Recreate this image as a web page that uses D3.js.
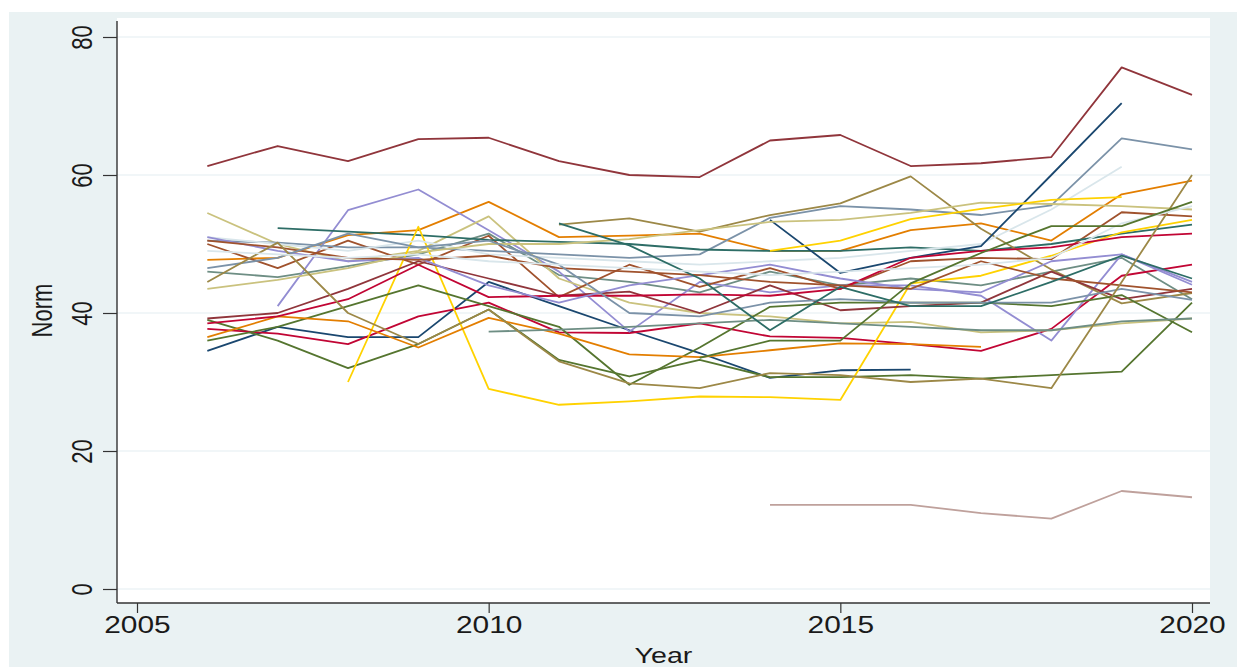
<!DOCTYPE html>
<html>
<head>
<meta charset="utf-8">
<script src="https://cdn.jsdelivr.net/npm/d3@7"></script>
<style>
  html, body { margin: 0; padding: 0; background: #ffffff; }
  svg { display: block; }
  text { font-family: "Liberation Sans", Arial, sans-serif; fill: #1a1a1a; }
</style>
</head>
<body>
<div id="chart"></div>
<script>
// Years on the x axis
const years = [2006, 2007, 2008, 2009, 2010, 2011, 2012, 2013, 2014, 2015, 2016, 2017, 2018, 2019, 2020];
const xTicks = [2005, 2010, 2015, 2020];
const yTicks = [0, 20, 40, 60, 80];

// Stata s2color line palette, cycled over the units
const palette = ["#1a476f", "#90353b", "#55752f", "#e37e00", "#6e8e84", "#c10534", "#938dd2",
                 "#cac27e", "#a0522d", "#7b92a8", "#2d6d66", "#9c8847", "#bfa19c", "#ffd200", "#d9e6eb"];

// Norm by year, one array per unit (null = no observation)
const unit01 = [34.5, 38.0, 36.5, 36.5, 44.5, 41.0, 37.5, 34.2, 30.6, 31.7, 31.8, null, null, null, null];
const unit02 = [61.3, 64.2, 62.0, 65.2, 65.4, 62.0, 60.0, 59.7, 65.0, 65.8, 61.3, 61.7, 62.6, 75.6, 71.6];
const unit03 = [39.0, 36.0, 32.0, 35.5, 40.5, 33.2, 30.8, 33.2, 30.7, 30.7, 31.0, 30.5, 31.0, 31.5, 41.5];
const unit04 = [47.7, 48.0, 51.3, 52.0, 56.1, 51.0, 51.2, 51.5, 49.0, 49.0, 52.0, 53.0, 50.5, 57.2, 59.2];
const unit05 = [46.0, 45.2, 46.8, 48.5, 51.5, 45.5, 44.5, 43.0, 46.0, 44.0, 45.0, 44.0, 46.0, 48.0, 42.0];
const unit06 = [37.7, 37.0, 35.5, 39.5, 41.5, 37.2, 37.1, 38.5, 36.6, 36.4, 35.5, 34.5, 37.7, 45.4, 47.0];
const unit07 = [null, 41.0, 54.9, 57.9, 52.0, 46.0, 37.3, 44.5, 43.0, 44.0, 44.0, 42.5, 36.0, 48.5, 44.1];
const unit08 = [54.5, 50.0, 47.5, 49.0, 54.0, 45.0, 41.5, 40.0, 39.5, 38.5, 38.7, 37.2, 37.5, 38.5, 39.2];
const unit09 = [50.0, 46.5, 50.5, 47.0, 51.2, 42.3, 47.0, 43.8, 46.5, 43.5, 47.5, 48.0, 47.8, 54.6, 54.0];
const unit10 = [50.5, 50.2, 49.5, 49.5, 49.0, 48.5, 48.0, 48.5, 53.8, 55.5, 55.0, 54.2, 55.6, 65.3, 63.7];
const unit11 = [null, 52.3, 51.8, 51.3, 50.6, 50.3, 50.0, 49.2, 49.0, 49.0, 49.5, 49.0, 50.0, 51.5, 52.8];
const unit12 = [null, null, null, null, null, 52.8, 53.7, 51.8, 54.2, 55.9, 59.8, 52.2, 46.3, 41.4, 42.9];
const unit13 = [null, null, null, null, null, null, null, null, 12.2, 12.2, 12.2, 11.0, 10.2, 14.2, 13.3];
const unit14 = [null, null, 30.0, 52.5, 29.0, 26.7, 27.2, 27.9, 27.8, 27.4, 44.3, 45.4, 48.3, 51.7, 53.5];
const unit15 = [51.0, 50.0, 49.0, 50.5, 48.5, 48.0, 47.5, 47.0, 47.5, 48.0, 49.0, 50.0, 55.0, 61.2, null];
const unit16 = [null, null, null, null, null, null, null, null, 53.5, 45.8, 48.0, 49.7, 60.0, 70.4, null];
const unit17 = [39.2, 40.0, 43.5, 47.5, 45.0, 42.5, 43.1, 40.0, 44.0, 40.4, 41.0, 41.5, 46.0, 42.0, 43.5];
const unit18 = [36.0, 38.0, 41.0, 44.0, 41.0, 38.0, 29.6, 35.0, 40.9, 41.5, 41.5, 41.5, 41.0, 42.6, 37.2];
const unit19 = [36.5, 39.5, 38.8, 35.0, 39.3, 37.0, 34.0, 33.6, 34.6, 35.6, 35.5, 35.1, null, null, null];
const unit20 = [null, null, null, null, 37.3, 37.6, 38.0, 38.5, 39.0, 38.5, 38.0, 37.5, 37.5, 38.8, 39.2];
const unit21 = [38.5, 39.5, 42.0, 47.0, 42.3, 42.5, 42.5, 42.7, 42.5, 43.5, 48.0, 49.0, 49.5, 51.0, 51.5];
const unit22 = [51.0, 49.0, 47.5, 48.0, 44.0, 41.5, 44.0, 45.5, 47.0, 45.0, 43.5, 43.0, 47.5, 48.5, 44.5];
const unit23 = [43.5, 44.8, 46.5, 48.8, 50.0, 50.0, 50.7, 52.0, 53.2, 53.5, 54.5, 56.0, 55.8, 55.5, 55.0];
const unit24 = [50.5, 49.5, 48.0, 47.7, 48.3, 46.5, 46.0, 45.5, 44.5, 44.0, 43.5, 47.5, 45.0, 44.0, 43.0];
const unit25 = [46.5, 48.0, 51.5, 49.5, 50.5, 47.0, 40.0, 39.5, 41.5, 42.0, 41.5, 41.5, 41.5, 43.5, 41.9];
const unit26 = [null, null, null, null, null, 53.0, 49.8, 45.0, 37.5, 43.8, 41.0, 41.0, 44.5, 48.3, 45.0];
const unit27 = [44.5, 50.2, 40.0, 35.5, 40.5, 33.0, 29.8, 29.1, 31.3, 31.0, 30.0, 30.5, 29.1, 44.5, 60.0];
const unit29 = [null, null, null, null, null, null, null, null, 49.0, 50.5, 53.6, 55.1, 56.4, 56.8, null];
const unit30 = [49.0, 48.5, 48.0, 48.5, 47.5, 47.0, 46.5, 46.0, 45.5, 46.0, 46.5, 47.0, 48.0, 53.0, 55.5];
const unit33 = [null, null, null, null, null, null, null, 33.5, 36.0, 36.0, 44.3, 48.7, 52.6, 52.6, 56.1];

// position in this list sets the palette colour (Stata cycles its pstyles)
const units = [unit01, unit02, unit03, unit04, unit05, unit06, unit07, unit08, unit09, unit10,
               unit11, unit12, unit13, unit14, unit15, unit16, unit17, unit18, unit19, unit20,
               unit21, unit22, unit23, unit24, unit25, unit26, unit27, null, unit29, unit30,
               null, null, unit33];

const W = 1243, H = 667;
const svg = d3.select("#chart").append("svg").attr("width", W).attr("height", H);

// graph region
svg.append("rect").attr("x", 9).attr("y", 12).attr("width", 1228).attr("height", H - 12).attr("fill", "#eaf2f3");

const plot = { left: 117, right: 1210, top: 18, bottom: 603 };
svg.append("rect").attr("x", plot.left).attr("y", plot.top)
  .attr("width", plot.right - plot.left).attr("height", plot.bottom - plot.top).attr("fill", "#ffffff");

const x = d3.scaleLinear().domain([2005, 2020]).range([137, 1192]);
const y = d3.scaleLinear().domain([0, 80]).range([589, 37]);

// horizontal grid
svg.append("g").selectAll("line").data(yTicks).join("line")
  .attr("x1", plot.left).attr("x2", plot.right)
  .attr("y1", d => y(d)).attr("y2", d => y(d))
  .attr("stroke", "#e4eef1").attr("stroke-width", 1.2);

// series
const line = d3.line().defined(d => d[1] != null).x(d => x(d[0])).y(d => y(d[1]));
const lines = svg.append("g").attr("fill", "none").attr("stroke-width", 1.8)
  .attr("stroke-linejoin", "round");
units.forEach((vals, i) => {
  if (!vals) return;
  lines.append("path")
    .attr("d", line(years.map((yr, j) => [yr, vals[j]])))
    .attr("stroke", palette[i % palette.length]);
});

const stretch = 1.3;

// y axis
const yAxis = svg.append("g").attr("transform", `translate(${plot.left},0)`)
  .call(d3.axisLeft(y).tickValues(yTicks).tickSize(14).tickPadding(8));
yAxis.select(".domain").attr("d", `M0,${plot.top + 3}V${plot.bottom}`).attr("stroke", "#333").attr("stroke-width", 1.4);
yAxis.selectAll(".tick line").attr("stroke", "#333").attr("stroke-width", 1.2);
yAxis.selectAll(".tick text").attr("font-size", 22)
  .attr("text-anchor", "middle").attr("dy", 0).attr("x", 0).attr("y", 0)
  .attr("transform", `translate(-33,0) scale(${stretch},1) rotate(-90)`)
  .attr("dominant-baseline", "middle");

// x axis
const xAxis = svg.append("g").attr("transform", `translate(0,${plot.bottom})`)
  .call(d3.axisBottom(x).tickValues(xTicks).tickFormat(d3.format("d")).tickSize(10).tickPadding(4));
xAxis.select(".domain").attr("d", `M${plot.left},0H${plot.right}`).attr("stroke", "#333").attr("stroke-width", 1.4);
xAxis.selectAll(".tick line").attr("stroke", "#333").attr("stroke-width", 1.2);
xAxis.selectAll(".tick text").attr("font-size", 23).attr("transform", `scale(${stretch},1)`);

// axis titles
svg.append("text").attr("transform", `translate(${(plot.left + plot.right) / 2},663) scale(${stretch},1)`)
  .attr("text-anchor", "middle").attr("font-size", 22).text("Year");
svg.append("text").attr("transform", `translate(52,${(plot.top + plot.bottom) / 2}) scale(${stretch},1) rotate(-90)`)
  .attr("text-anchor", "middle").attr("font-size", 22).text("Norm");
</script>
</body>
</html>
